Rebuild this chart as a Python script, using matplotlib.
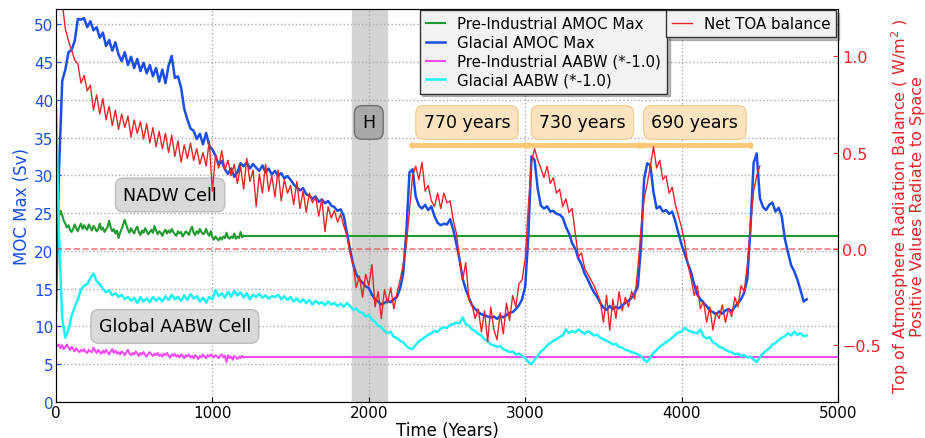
import numpy as np
import matplotlib.pyplot as plt

# Glacial AMOC max (Sv), 20-yr samples 0..4800
glacial_amoc = [
    12, 31, 42.5, 44, 46.3, 46.6, 47.8, 50.7, 50.6, 50.8,
    49.6, 50.4, 49.2, 49.6, 48.2, 48.9, 47.1, 47.9, 46.5, 47.6,
    46.0, 45.1, 46.3, 44.6, 45.7, 44.2, 45.4, 43.8, 44.9, 43.5,
    44.6, 43.1, 44.2, 42.4, 44.0, 42.2, 44.5, 45.8, 42.9, 43.1,
    41.6, 38.8, 37.4, 36.2, 35.9, 34.8, 35.5, 34.1, 35.6, 33.9,
    33.4, 32.6, 31.4, 31.9, 30.8, 30.2, 30.9, 29.8, 30.4, 31.6,
    31.2, 31.7, 30.9, 31.5, 31.0, 30.6, 31.3, 30.4, 30.9, 30.1,
    30.6, 29.9, 30.3, 29.6, 29.9, 29.4, 28.8, 28.4, 28.0, 28.3,
    27.5, 27.3, 26.9, 27.2, 26.5, 26.8, 26.3, 26.6, 26.0, 25.8,
    25.3, 25.5, 24.6, 22.4, 20.2, 18.2, 16.9, 16.2, 15.8, 15.3,
    15.1, 14.2, 13.6, 13.3, 12.9, 13.1, 13.4, 13.2, 13.6, 13.9,
    15.0, 17.0, 22.5, 30.4, 30.8, 27.2, 26.0, 25.6, 26.1, 25.4,
    25.9, 24.6, 23.7, 23.4, 23.6, 23.5, 24.2, 22.8, 20.9, 18.9,
    16.3, 14.9, 13.8, 12.8, 12.3, 11.9, 11.6, 11.5, 11.3, 11.2,
    11.3, 11.0, 11.4, 11.2, 11.5, 11.8, 11.9, 12.3, 12.8, 13.6,
    15.3, 22.0, 32.5, 32.0, 28.2, 26.0, 25.6, 25.9, 25.2, 25.3,
    24.9, 24.8, 24.4, 23.2, 22.3, 21.0, 20.3, 19.0, 18.2, 17.0,
    16.2, 15.3, 14.5, 13.9, 13.1, 12.5, 12.2, 12.7, 12.3, 12.6,
    12.4, 12.8, 13.1, 13.4, 13.8, 14.4, 15.3, 20.5, 29.5, 31.6,
    31.3, 27.8, 25.6, 25.9, 25.2, 25.4, 24.9, 25.2, 23.9, 22.3,
    20.8, 19.6, 18.3, 17.2, 15.6, 14.2, 13.6, 13.1, 12.7, 12.1,
    11.9, 11.6, 12.0, 11.7, 12.1, 12.3, 12.0, 12.6, 13.1, 13.6,
    14.5, 16.3, 23.0, 31.6, 32.9, 27.0, 25.8, 25.4, 26.1, 26.4,
    25.2, 25.7, 24.6, 21.6, 19.8, 18.1, 17.3, 16.2, 14.8, 13.3,
    13.6,
]

# Glacial AABW (*-1.0) (Sv), 20-yr samples 0..4800
glacial_aabw = [
    39, 22, 11, 8.5, 9.6, 11.4, 12.6, 13.6, 14.9, 15.4,
    15.6, 16.4, 17.0, 16.0, 15.6, 15.0, 14.5, 14.8, 14.1, 14.4,
    13.9, 14.2, 13.6, 13.9, 13.4, 13.8, 13.1, 13.9, 13.3, 13.7,
    13.2, 13.9, 13.4, 13.8, 13.3, 14.0, 13.5, 14.2, 13.6, 13.9,
    13.4, 14.1, 13.5, 14.3, 13.7, 14.0, 13.3, 13.8, 13.2, 13.9,
    13.6, 14.8, 14.0, 14.4, 13.8, 14.6, 13.9, 14.7, 14.1, 14.5,
    13.8, 14.4, 13.6, 14.2, 13.9, 14.3, 13.8, 14.1, 13.7, 14.0,
    13.9, 14.2, 13.6, 14.0, 13.5, 13.9, 13.3, 13.7, 13.2, 13.6,
    13.1, 13.5, 12.9, 13.4, 13.0, 13.2, 12.8, 13.3, 12.9, 13.1,
    12.7, 13.0, 12.6, 13.1, 12.7, 12.2, 12.4, 11.9, 11.8, 11.3,
    11.5, 10.9, 10.6, 10.1, 9.9, 9.4, 9.1, 9.3, 8.6, 8.5,
    8.1, 7.9, 7.4, 7.1, 7.0, 7.6, 8.0, 8.3, 8.6, 8.9,
    9.1, 9.4, 9.3, 9.7, 9.9, 9.8, 10.2, 10.3, 10.5, 10.4,
    11.2, 10.3, 10.1, 9.6, 9.4, 9.0, 8.8, 8.3, 8.1, 7.6,
    7.5, 7.3, 7.4, 7.0, 6.8, 6.6, 6.7, 6.3, 6.4, 6.1,
    5.8, 5.3, 5.0, 5.6, 6.1, 6.7, 7.0, 7.5, 7.8, 8.1,
    8.3, 8.6, 8.8, 9.6, 9.1, 9.4, 9.2, 9.6, 9.3, 9.0,
    9.4, 9.1, 8.8, 8.9, 8.5, 8.3, 8.1, 7.9, 7.6, 7.7,
    7.3, 7.2, 6.9, 6.8, 6.6, 6.5, 6.3, 6.1, 5.6, 5.3,
    5.9, 6.5, 6.9, 7.3, 7.6, 7.9, 8.2, 8.5, 8.9, 9.2,
    9.3, 9.8, 9.5, 9.3, 9.2, 9.1, 9.6, 8.7, 8.4, 8.6,
    7.9, 7.7, 7.3, 7.2, 6.9, 6.7, 6.6, 6.3, 6.4, 6.1,
    6.2, 5.9, 6.0, 5.6, 5.3, 5.9, 6.4, 6.8, 7.1, 7.6,
    7.8, 8.2, 8.5, 8.7, 9.1, 8.8, 9.3, 8.9, 9.1, 8.7,
    8.8,
]

# Net TOA balance (W/m2), 20-yr samples 0..4500
toa = [
    1.60, 1.45, 1.28, 1.14, 1.08, 1.03, 0.98, 0.96, 0.86, 0.90,
    0.82, 0.85, 0.72, 0.80, 0.70, 0.78, 0.67, 0.74, 0.64, 0.72,
    0.62, 0.70, 0.63, 0.69, 0.58, 0.67, 0.60, 0.66, 0.57, 0.65,
    0.55, 0.63, 0.53, 0.61, 0.52, 0.60, 0.50, 0.59, 0.48, 0.56,
    0.45, 0.54, 0.47, 0.55, 0.46, 0.52, 0.44, 0.50, 0.43, 0.56,
    0.30, 0.49, 0.42, 0.51, 0.41, 0.46, 0.38, 0.44, 0.34, 0.43,
    0.31, 0.47, 0.35, 0.41, 0.22, 0.39, 0.29, 0.44, 0.30, 0.38,
    0.27, 0.41, 0.25, 0.36, 0.29, 0.33, 0.23, 0.35, 0.21, 0.30,
    0.19, 0.29, 0.24, 0.27, 0.17, 0.26, 0.09, 0.22, 0.16, 0.20,
    0.14, 0.18, 0.12, 0.07, -0.02, -0.08, -0.20, -0.14, -0.25, -0.13,
    -0.19, -0.08, -0.30, -0.22, -0.36, -0.21, -0.28, -0.20, -0.31, -0.23,
    -0.16, -0.08, 0.02, 0.20, 0.38, 0.43, 0.36, 0.45, 0.30, 0.33,
    0.25, 0.22, 0.29, 0.21, 0.29, 0.24, 0.25, 0.15, 0.08, -0.05,
    -0.16, -0.07, -0.26, -0.29, -0.36, -0.31, -0.43, -0.32, -0.48, -0.30,
    -0.42, -0.47, -0.33, -0.44, -0.28, -0.37, -0.24, -0.30, -0.18, -0.16,
    -0.05, 0.22, 0.45, 0.52, 0.46, 0.42, 0.37, 0.43, 0.34, 0.37,
    0.29, 0.31, 0.22, 0.26, 0.19, 0.21, 0.08, -0.04, -0.02, -0.10,
    -0.13, -0.16, -0.19, -0.23, -0.27, -0.38, -0.24, -0.42, -0.26, -0.36,
    -0.22, -0.32, -0.25, -0.30, -0.22, -0.26, -0.10, 0.10, 0.26, 0.34,
    0.43, 0.53, 0.42, 0.46, 0.36, 0.38, 0.29, 0.32, 0.23, 0.17,
    0.11, 0.03, -0.08, -0.15, -0.24, -0.19, -0.31, -0.27, -0.38, -0.30,
    -0.42, -0.33, -0.36, -0.29, -0.38, -0.31, -0.35, -0.25, -0.30, -0.19,
    -0.22, -0.08, 0.12, 0.30, 0.38, 0.43,
]

# Pre-industrial runs (Sv), 10-yr samples 0..1200, then long-term mean
pi_amoc = [
    24.2, 25.0, 24.6, 25.3, 24.7, 24.0, 23.6, 23.1, 23.4, 22.8,
    22.5, 22.9, 23.5, 23.0, 22.6, 23.2, 23.6, 22.9, 23.4, 23.0,
    22.8, 23.5, 23.1, 22.7, 23.3, 23.0, 22.6, 22.9, 23.6, 22.8,
    23.1, 22.5, 22.8, 23.2, 24.0, 23.1, 22.6, 22.9, 22.3, 22.7,
    21.7, 22.4, 22.9, 23.5, 24.1, 23.4, 22.8, 22.4, 23.0, 22.6,
    22.3, 22.9, 23.2, 22.5, 22.1, 22.7, 22.4, 23.0, 22.6, 22.2,
    22.5, 22.8, 22.4, 23.3, 22.7, 22.2, 22.6, 22.4, 22.0, 22.5,
    22.8, 22.3, 22.7, 22.4, 22.9, 22.5, 22.2, 22.0, 22.6, 22.3,
    22.5, 21.9, 22.2, 22.6, 22.4, 22.1, 22.8, 23.2, 22.4, 22.1,
    22.6, 22.3, 22.9, 22.5, 22.2, 22.4, 22.9, 22.3, 22.0, 22.6,
    21.8, 21.5, 21.9, 21.6, 21.4, 21.8, 21.5, 21.9, 21.7, 22.4,
    21.8, 21.6, 21.9, 21.7, 22.3, 21.6, 21.9, 21.7, 22.5, 21.8,
    22.0,
]
pi_aabw = [
    7.7, 7.4, 7.6, 7.1, 7.5, 7.0, 7.3, 7.6, 7.2, 6.9,
    7.3, 7.0, 6.7, 7.1, 6.8, 6.6, 6.9, 6.7, 7.0, 6.6,
    6.5, 6.9, 6.7, 6.6, 7.2, 6.8, 6.5, 6.9, 6.6, 6.4,
    6.8, 6.5, 6.9, 6.6, 6.3, 6.7, 7.0, 6.5, 6.8, 6.4,
    6.6, 6.3, 6.7, 6.5, 6.2, 6.6, 6.9, 6.4, 6.2, 6.5,
    6.3, 6.7, 6.4, 6.1, 6.5, 6.3, 6.6, 6.2, 6.0, 6.4,
    6.6, 6.3, 6.1, 6.4, 6.2, 6.5, 6.1, 6.3, 6.0, 6.4,
    6.2, 6.5, 6.1, 5.9, 6.3, 6.1, 6.4, 6.0, 6.2, 5.9,
    6.3, 6.1, 5.8, 6.2, 6.0, 6.3, 5.9, 6.1, 5.8, 6.2,
    6.0, 5.7, 6.1, 5.9, 6.3, 6.0, 5.8, 6.2, 6.0, 6.3,
    6.1, 5.9, 6.2, 6.0, 5.8, 6.1, 6.3, 5.9, 6.1, 5.3,
    6.2, 5.8, 6.0, 5.6, 6.1, 5.9, 5.7, 6.0, 5.8, 6.1,
    5.9,
]
pi_amoc_mean = 21.95
pi_aabw_mean = 5.95

# oscillation periods
period_labels = ["770 years", "730 years", "690 years"]
period_starts = [2264, 3011, 3740]
period_ends = [3011, 3740, 4450]

c_green = '#1f9a2e'
c_blue = '#1a4ee6'
c_mag = '#f24cf2'
c_cyan = '#1ef2f2'
c_red = '#e8242a'
c_orange = '#fcc878'

t_amoc = np.linspace(0, 4800, len(glacial_amoc))
t_aabw = np.linspace(0, 4800, len(glacial_aabw))
t_toa = np.linspace(0, 4500, len(toa))
t_pi1 = np.linspace(0, 1200, len(pi_amoc))
t_pi2 = np.linspace(0, 1200, len(pi_aabw))

fig = plt.figure(figsize=(9.25, 4.39), dpi=100)
ax = fig.add_axes([0.0605, 0.082, 0.8455, 0.895])

ax.axvspan(1890, 2115, color='#d3d3d3', zorder=0)

ax.plot(t_pi1, pi_amoc, color=c_green, lw=1.5, label='Pre-Industrial AMOC Max')
ax.plot([1200, 5000], [pi_amoc_mean] * 2, color=c_green, lw=1.5)
ax.plot(t_amoc, glacial_amoc, color=c_blue, lw=1.8, label='Glacial AMOC Max')
ax.plot(t_pi2, pi_aabw, color=c_mag, lw=1.5, label='Pre-Industrial AABW (*-1.0)')
ax.plot([1200, 5000], [pi_aabw_mean] * 2, color=c_mag, lw=1.5)
ax.plot(t_aabw, glacial_aabw, color=c_cyan, lw=1.8, label='Glacial AABW (*-1.0)')

for s, e, lab in zip(period_starts, period_ends, period_labels):
    ax.plot([s + 10, e - 10], [34.0, 34.0], color=c_orange, lw=3.5,
            marker='o', markersize=3.5, solid_capstyle='round', zorder=3)
    ax.text((s + e) / 2 - 10, 37.0, lab, fontsize=12.5, ha='center', va='center',
            bbox=dict(boxstyle='round,pad=0.45', fc='#fde4c0', ec='#f3cf98'))

ax.text(2000, 37.0, 'H', fontsize=12.5, ha='center', va='center',
        bbox=dict(boxstyle='round,pad=0.45', fc='#a9a9a9', ec='#6e6e6e'))
ax.text(730, 27.4, 'NADW Cell', fontsize=12.5, ha='center', va='center',
        bbox=dict(boxstyle='round,pad=0.45', fc='#d9d9d9', ec='#bdbdbd'))
ax.text(760, 10.0, 'Global AABW Cell', fontsize=12.5, ha='center', va='center',
        bbox=dict(boxstyle='round,pad=0.45', fc='#d9d9d9', ec='#bdbdbd'))

ax.set_xlim(0, 5000)
ax.set_ylim(0, 52)
ax.set_xticks(range(0, 5001, 1000))
ax.set_yticks(range(0, 51, 5))
ax.grid(True, ls=':', color='#aaaaaa', lw=1)
ax.tick_params(direction='in', labelsize=11, pad=2)
ax.tick_params(axis='y', colors=c_blue, labelcolor=c_blue)
ax.set_xlabel('Time (Years)', fontsize=12, labelpad=1)
ax.set_ylabel('MOC Max (Sv)', color=c_blue, fontsize=12, labelpad=2)
for sp in ax.spines.values():
    sp.set_color('#555555')

leg = ax.legend(loc='upper left', bbox_to_anchor=(0.465, 0.997), fontsize=10.8,
                handlelength=1.3, borderaxespad=0, labelspacing=0.25,
                fancybox=False, shadow={'alpha': 0.35}, framealpha=1)
leg.get_frame().set_facecolor('#f2f2f2')
leg.get_frame().set_edgecolor('#333333')

ax2 = ax.twinx()
ax2.plot(t_toa, toa, color=c_red, lw=1.0, label='Net TOA balance')
ax2.axhline(0, color=c_red, ls='--', lw=1.2, alpha=0.6)
ax2.set_ylim(-0.793, 1.244)
ax2.set_yticks([-0.5, 0.0, 0.5, 1.0])
ax2.tick_params(direction='in', labelsize=11.5, pad=3, colors=c_red, labelcolor=c_red)
ax2.set_ylabel('Top of Atmosphere Radiation Balance ( W/m$^2$ )\nPositive Values Radiate to Space',
               color=c_red, fontsize=11.5, linespacing=0.95, labelpad=6)
leg2 = ax2.legend(loc='upper right', bbox_to_anchor=(0.998, 0.997), fontsize=10.8,
                  handlelength=1.3, borderaxespad=0, fancybox=False,
                  shadow={'alpha': 0.35}, framealpha=1)
leg2.get_frame().set_facecolor('#f2f2f2')
leg2.get_frame().set_edgecolor('#333333')

fig.savefig('out.png', dpi=100)
